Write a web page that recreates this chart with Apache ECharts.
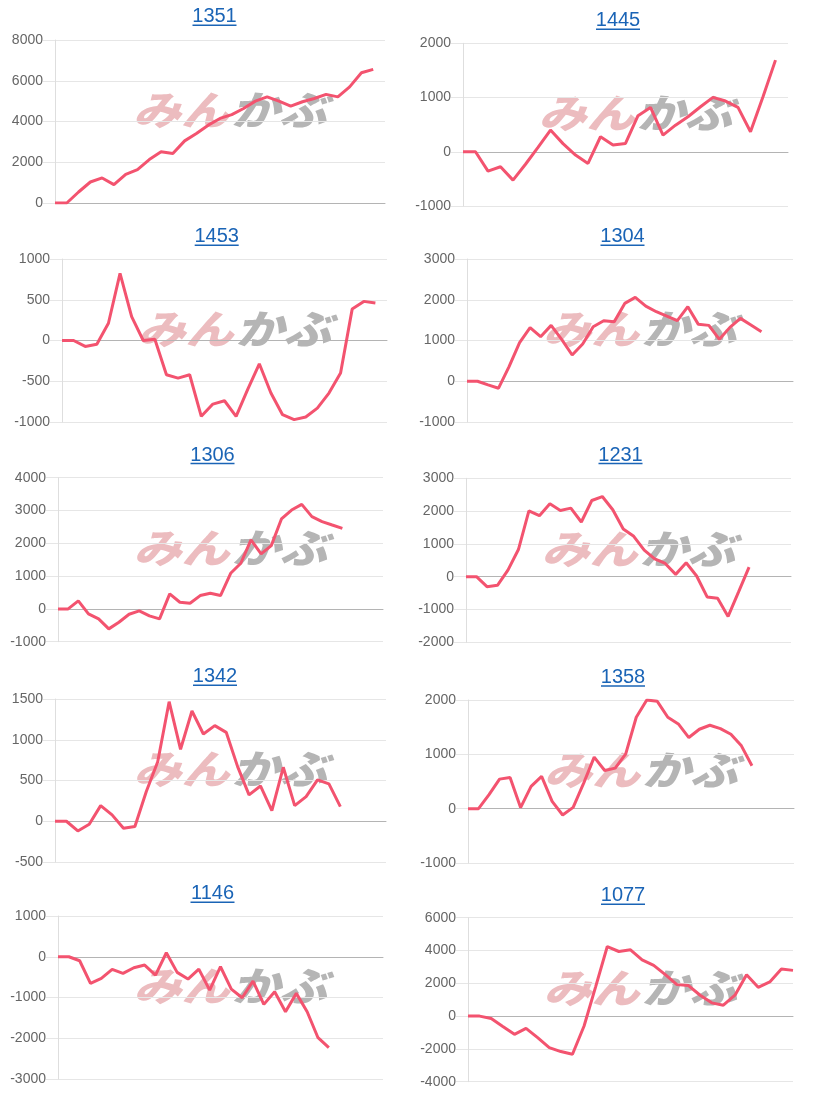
<!DOCTYPE html>
<html>
<head>
<meta charset="utf-8">
<script src="https://cdn.jsdelivr.net/npm/echarts@6/dist/echarts.min.js"></script>
<style>
html,body{margin:0;padding:0;background:#fff;}
#c{width:816px;height:1095px;}
</style>
</head>
<body>
<div id="c"></div>
<script>
// ---- data ----
const codes = ['1351','1445','1453','1304','1306','1231','1342','1358','1146','1077'];
const slotCounts = [29,27,29,32,33,32,30,32,31,29];
const yMins = [0,-1000,-1000,-1000,-1000,-2000,-500,-1000,-3000,-4000];
const yMaxs = [8000,2000,1000,3000,4000,3000,1500,2000,1000,6000];
const yIntervals = [2000,1000,500,1000,1000,1000,500,1000,1000,2000];

const s1351 = [0,0,540,1030,1230,900,1410,1640,2130,2510,2430,3050,3410,3820,4150,4340,4640,5000,5210,5000,4750,4970,5130,5330,5210,5700,6390,6560];
const s1445 = [0,0,-357,-277,-523,-230,80,400,150,-60,-215,277,123,154,665,818,308,490,646,830,1003,935,818,370,1015,1690];
const s1453 = [0,0,-73,-45,212,824,294,0,16,-420,-461,-420,-930,-780,-739,-930,-600,-286,-645,-910,-971,-939,-829,-645,-400,385,480,460];
const s1304 = [0,0,-90,-171,359,947,1314,1094,1371,1029,645,914,1339,1486,1461,1910,2057,1845,1706,1600,1486,1829,1396,1371,1029,1322,1543,1380,1216];
const s1306 = [0,0,244,-152,-305,-609,-406,-162,-61,-213,-305,457,203,173,406,477,406,1086,1391,2102,1675,1929,2741,3015,3188,2812,2660,2558,2457];
const s1231 = [0,0,-303,-263,202,828,2010,1859,2222,2020,2091,1667,2323,2444,2040,1455,1232,808,545,404,71,424,20,-616,-657,-1212,-465,293];
const s1342 = [0,0,-119,-37,192,78,-86,-65,364,731,1467,883,1353,1071,1173,1091,670,323,433,131,662,192,302,507,458,180];
const s1358 = [0,0,257,544,575,20,410,593,135,-116,24,471,948,703,746,1009,1682,2000,1976,1682,1560,1309,1462,1535,1474,1370,1156,789];
const s1146 = [0,0,-98,-654,-531,-311,-409,-270,-204,-450,98,-384,-548,-303,-818,-245,-793,-1006,-597,-1169,-859,-1349,-899,-1349,-1987,-2232];
const s1077 = [0,0,-141,-630,-1111,-747,-1313,-1919,-2162,-2323,-606,1800,4242,3939,4040,3434,3091,2525,1919,1859,1273,808,667,1273,2525,1758,2081,2869,2788];
const seriesData = [s1351,s1445,s1453,s1304,s1306,s1231,s1342,s1358,s1146,s1077];

// ---- layout ----
const plots = [
  [55,40,330,163],[463,43.3,325,162.7],
  [62,259,325,163],[467,259,326,163],
  [58,477.7,325,164],[466,478.3,325,164],
  [55,699,331,163],[468,700,326,163],
  [58,916,325,163],[468,917.7,325,164]
];
const titlePos = [
  [214.5,16.7],[618,20.8],[216.7,236.7],[622.5,236.7],[212.5,455],
  [620.5,455],[215,676.7],[623,677.5],[212.5,893.8],[623,895.8]
];

const LINE = '#f3536f';
const grid=[],xAxis=[],yAxis=[],series=[],graphic=[];
codes.forEach((code,i)=>{
  const p = plots[i];
  grid.push({left:p[0],top:p[1],width:p[2],height:p[3],containLabel:false});
  const cats = Array.from({length:slotCounts[i]},(_,k)=>String(k+1));
  xAxis.push({type:'category',gridIndex:i,data:cats,boundaryGap:false,
    axisLabel:{show:false},axisTick:{show:false},splitLine:{show:false},
    axisLine:{show:true,onZero:true,lineStyle:{color:'#b4b4b4',width:1}}});
  yAxis.push({type:'value',gridIndex:i,min:yMins[i],max:yMaxs[i],interval:yIntervals[i],
    axisLine:{show:true,lineStyle:{color:'#dedede'}},
    axisTick:{show:true,length:12,lineStyle:{color:'#e6e6e6'}},
    axisLabel:{color:'#666',fontSize:14,margin:12,fontFamily:'Liberation Sans, Arial, sans-serif',
      formatter:(v)=>String(v)},
    splitLine:{show:true,lineStyle:{color:'#e6e6e6'}}});
  series.push({type:'line',xAxisIndex:i,yAxisIndex:i,data:seriesData[i],showSymbol:false,
    lineStyle:{color:LINE,width:3},itemStyle:{color:LINE},z:5});
  // title
  const t = titlePos[i];
  graphic.push({type:'text',x:t[0],y:t[1],z:10,
    style:{text:code,fill:'#1a64b6',font:'20px "Liberation Sans", Arial, sans-serif',
      align:'center',verticalAlign:'middle',textAlign:'center',textVerticalAlign:'middle'}});
  graphic.push({type:'line',z:10,shape:{x1:t[0]-22,y1:t[1]+8.5,x2:t[0]+22,y2:t[1]+8.5},
    style:{stroke:'#1a64b6',lineWidth:1.5}});
  // watermark
  const cx = p[0]+p[2]/2+13, cy = p[1]+p[3]/2-12;
  graphic.push({type:'text',x:cx-4,y:cy,scaleX:1.2,z:0,silent:true,
    style:{text:'みん',fill:'#ecbcbf',font:'italic 900 40px "Noto Sans CJK JP", sans-serif',
      align:'right',verticalAlign:'middle',textAlign:'right',textVerticalAlign:'middle'}});
  graphic.push({type:'text',x:cx-2,y:cy,scaleX:1.2,z:0,silent:true,
    style:{text:'かぶ',fill:'#b5b5b5',font:'italic 900 40px "Noto Sans CJK JP", sans-serif',
      align:'left',verticalAlign:'middle',textAlign:'left',textVerticalAlign:'middle'}});
});

const chart = echarts.init(document.getElementById('c'),null,{renderer:'canvas'});
chart.setOption({animation:false,grid,xAxis,yAxis,series,graphic});
</script>
</body>
</html>
